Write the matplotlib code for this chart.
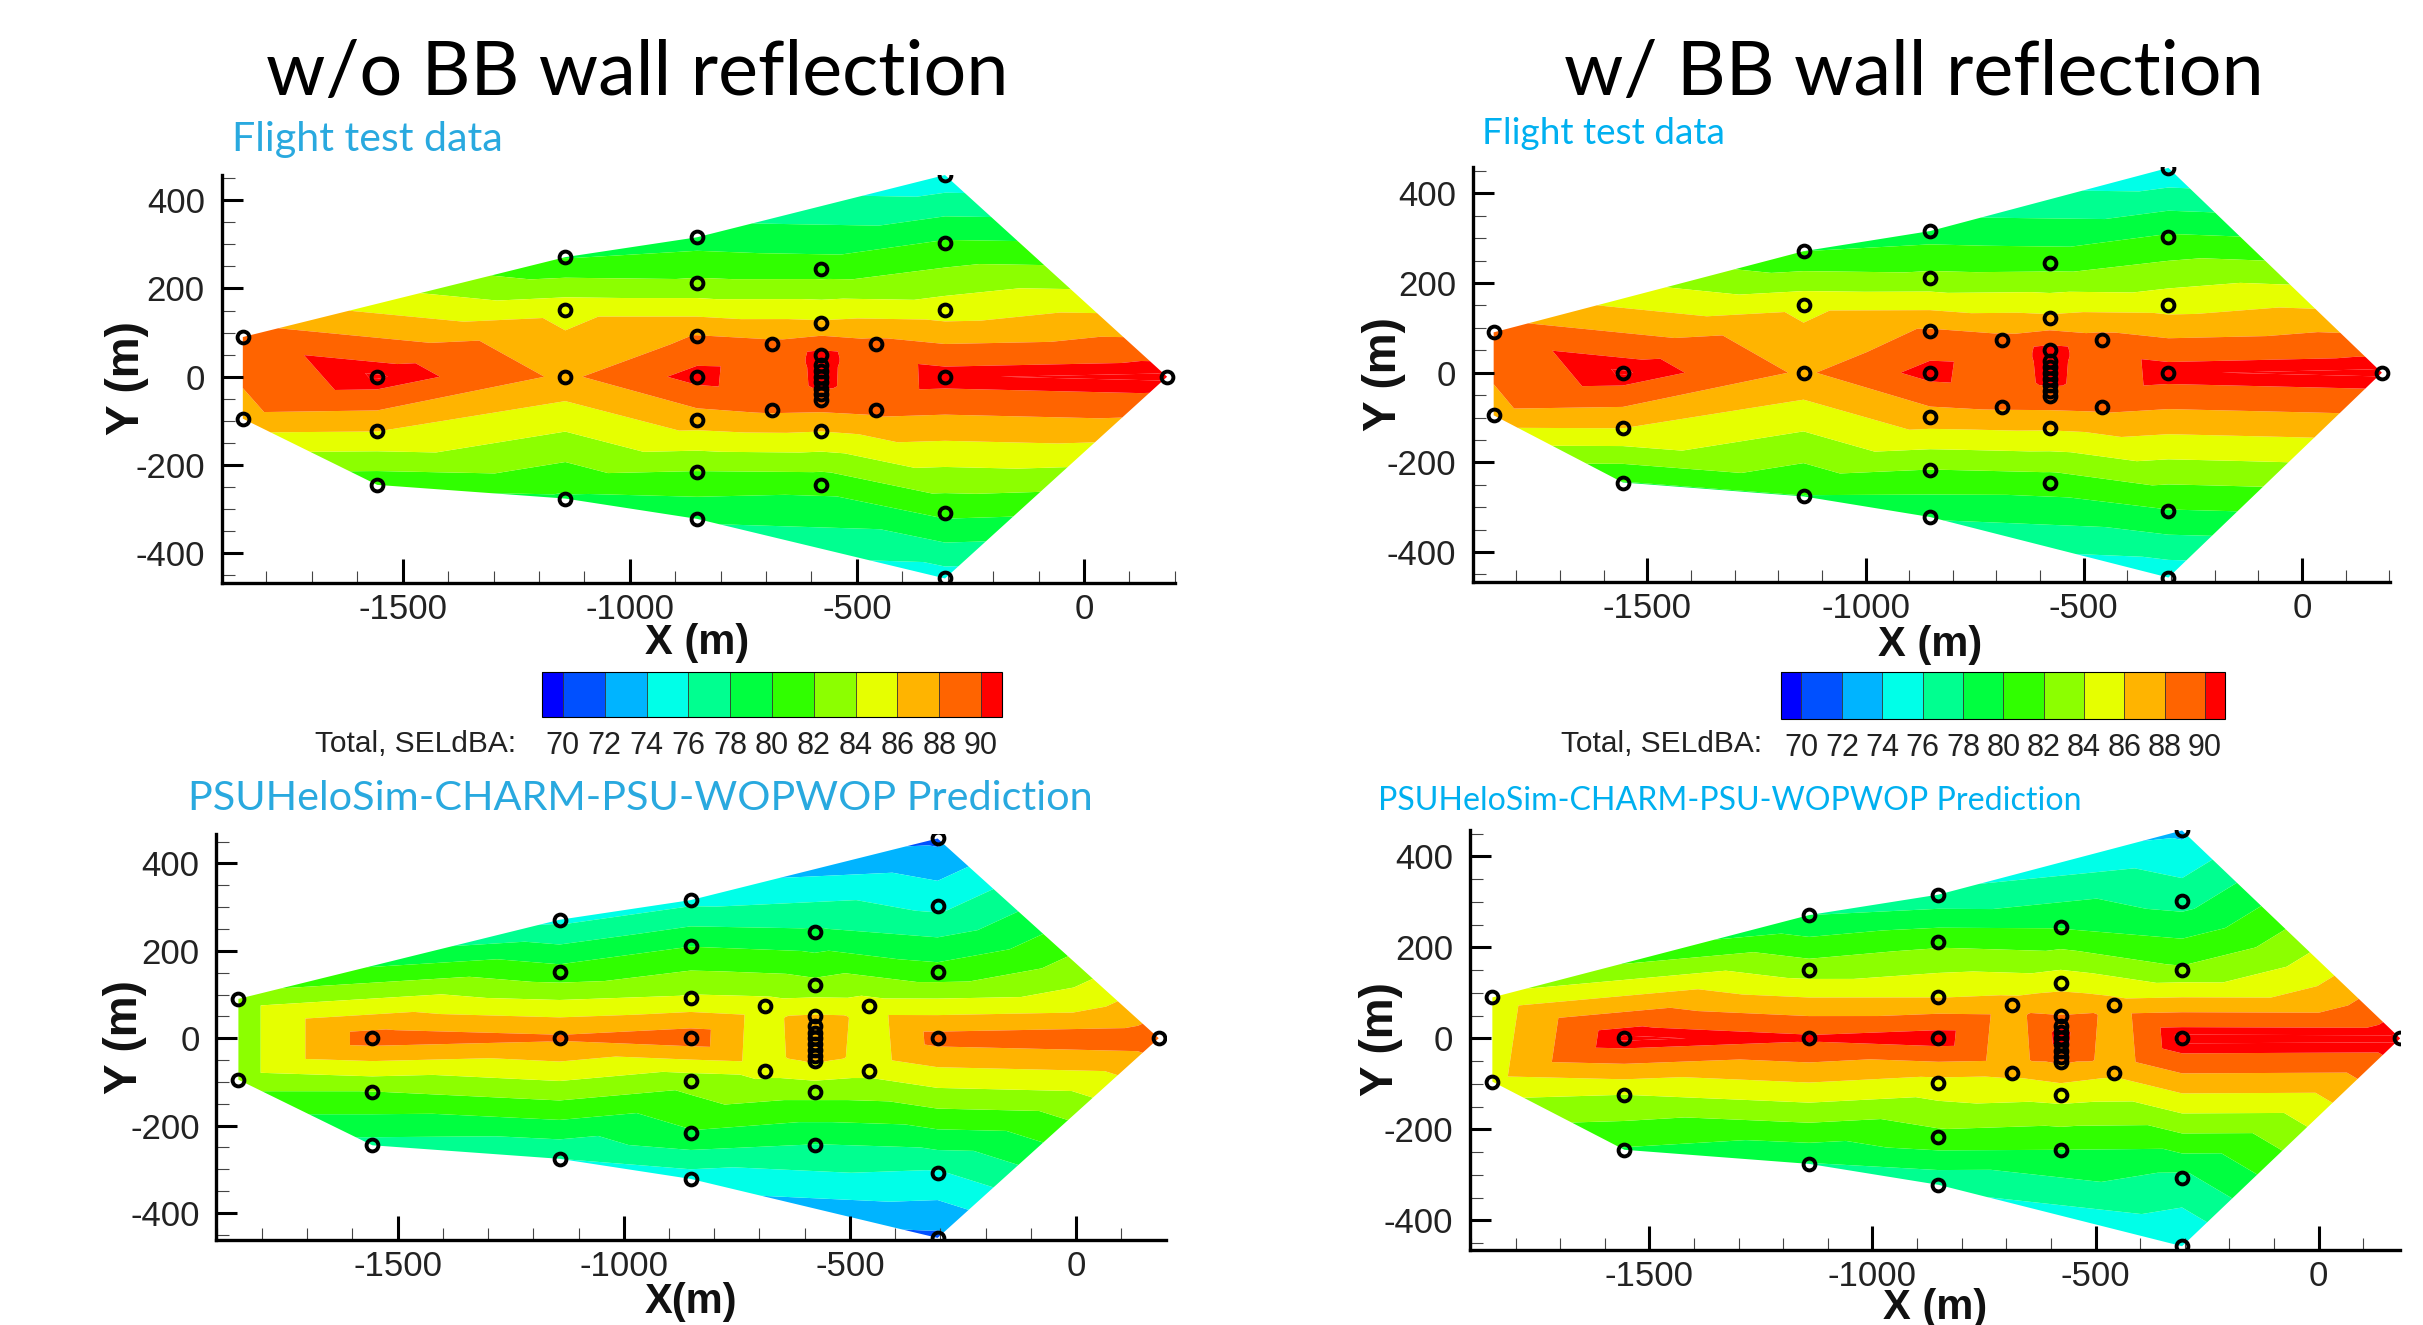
import matplotlib
matplotlib.use("Agg")
import matplotlib.pyplot as plt
import matplotlib.tri as mtri
from matplotlib.colors import ListedColormap, BoundaryNorm
from matplotlib.cm import ScalarMappable
from matplotlib.path import Path
from matplotlib.ticker import MultipleLocator
import numpy as np

W, H = 2423, 1325
plt.rcParams["font.family"] = "Liberation Sans"
plt.rcParams["axes.unicode_minus"] = False

# microphone positions (m)
mic_x = [-1852, -1852, -1556, -1556, -1556, -1142, -1142, -1142, -1142,
         -852, -852, -852, -852, -852, -852, -852, -688, -688,
         -578, -578, -578, -578, -578, -578, -578, -578, -578, -578, -578, -578,
         -458, -458, -306, -306, -306, -306, -306, -306, 183]
mic_y = [90, -95, 0, -124, -245, 271, 151, 0, -276,
         316, 212, 92, 0, -98, -216, -322, 74, -76,
         244, 121, 50, 27, 13, 0, -13, -27, -40, -52, -124, -245,
         74, -76, 457, 302, 151, 0, -308, -457, 0]
# outline of the measured area, as indices into the microphone list
hull_order = [0, 5, 9, 32, 38, 37, 15, 8, 4, 1]

# SEL values at every microphone (dBA)
flight_no_bb = [89.0, 87.4, 91.2, 86.0, 80.6, 79.9, 85.3, 87.6, 79.6,
                79.0, 82.4, 88.1, 90.7, 87.0, 81.9, 78.3, 88.5, 88.3,
                81.0, 86.3, 90.6, 90.7, 90.7, 90.6, 90.4, 90.0, 89.6, 89.3, 86.0, 80.7,
                88.6, 88.5, 74.5, 80.3, 85.0, 90.9, 80.5, 75.0, 91.3]
flight_bb = [89.0, 87.4, 91.2, 86.0, 79.9, 80.0, 85.4, 87.7, 79.9,
             79.0, 82.5, 88.3, 90.7, 87.2, 82.0, 78.2, 88.6, 88.3,
             81.2, 86.4, 90.7, 90.8, 90.8, 90.7, 90.5, 90.1, 89.7, 89.4, 86.2, 81.0,
             88.7, 88.5, 74.3, 80.3, 85.2, 90.9, 79.9, 74.6, 91.3]
pred_no_bb = [83.0, 83.0, 89.0, 81.9, 77.3, 75.5, 80.8, 88.4, 76.0,
              75.4, 79.9, 84.3, 89.2, 82.8, 79.8, 75.0, 84.8, 84.6,
              78.3, 82.6, 86.2, 87.3, 87.7, 87.9, 87.6, 87.1, 86.6, 86.2, 82.7, 77.9,
              84.9, 84.6, 71.5, 75.5, 80.8, 88.8, 75.8, 71.5, 89.3]
pred_bb = [84.7, 85.3, 91.3, 84.0, 79.8, 78.0, 83.0, 90.4, 77.9,
           76.5, 81.5, 85.9, 91.0, 85.3, 81.4, 76.5, 86.8, 86.4,
           79.9, 85.3, 88.1, 89.9, 90.4, 90.7, 90.3, 89.5, 88.7, 88.2, 84.8, 80.0,
           86.8, 86.4, 73.5, 77.2, 82.3, 91.5, 77.5, 74.0, 91.4]

levels = [69, 70, 72, 74, 76, 78, 80, 82, 84, 86, 88, 90, 91]
band_colors = ["#0000ff", "#0050ff", "#00b4ff", "#00ffe8", "#00ff90", "#00ff40",
               "#30ff00", "#8cff00", "#e6ff00", "#ffb400", "#ff6400", "#ff0000"]
cbar_ticks = [70, 72, 74, 76, 78, 80, 82, 84, 86, 88, 90]
x_tick_step, x_minor_step = 500, 100
y_tick_step, y_minor_step = 200, 50

cmap = ListedColormap(band_colors)
cmap.set_over(band_colors[-1])
cmap.set_under(band_colors[0])
norm = BoundaryNorm(levels, cmap.N)
fig = plt.figure(figsize=(W / 100, H / 100), dpi=100, facecolor="white")


def fx(px):
    return px / W


def fy(py):
    return 1 - py / H


def add_px_axes(left, top, right, bottom):
    return fig.add_axes([fx(left), fy(bottom), (right - left) / W, (bottom - top) / H])


def fit_text(px_left, py_center, string, px_width, color, family="Lato"):
    t = fig.text(fx(px_left), fy(py_center), string, color=color, family=family,
                 ha="left", va="center", fontsize=30)
    r = fig.canvas.get_renderer()
    t.set_fontsize(30 * px_width / t.get_window_extent(r).width)
    return t


xv = np.array(mic_x, float)
yv = np.array(mic_y, float)
triang = mtri.Triangulation(xv, yv)
outline = Path(np.column_stack([xv[hull_order], yv[hull_order]]))
centroids = np.column_stack([xv[triang.triangles].mean(axis=1), yv[triang.triangles].mean(axis=1)])
triang.set_mask(~outline.contains_points(centroids))


def panel(values, box, x_cal, y_cal):
    left, top, right, bottom = box
    ax = add_px_axes(left, top, right, bottom)
    xs = (x_cal[1] - x_cal[0]) / 1500
    ys = (y_cal[1] - y_cal[0]) / 800
    ax.set_xlim((left - x_cal[1]) / xs, (right - x_cal[1]) / xs)
    y0 = (y_cal[0] + y_cal[1]) / 2
    ax.set_ylim((y0 - bottom) / ys, (y0 - top) / ys)
    ax.tricontourf(triang, values, levels=levels, cmap=cmap, norm=norm, extend="both",
                   antialiased=True)
    ax.plot(xv, yv, ls="none", marker="o", ms=8.5, mfc="none", mec="black", mew=2.8, zorder=5)
    for s in ("top", "right"):
        ax.spines[s].set_visible(False)
    for s in ("left", "bottom"):
        ax.spines[s].set_linewidth(2.4)
    ax.xaxis.set_major_locator(MultipleLocator(x_tick_step))
    ax.xaxis.set_minor_locator(MultipleLocator(x_minor_step))
    ax.yaxis.set_major_locator(MultipleLocator(y_tick_step))
    ax.yaxis.set_minor_locator(MultipleLocator(y_minor_step))
    ax.tick_params(axis="x", which="major", direction="in", length=17, width=2.2, labelsize=25,
                   pad=7, labelcolor="#222222")
    ax.tick_params(axis="y", which="major", direction="in", length=15, width=2.2, labelsize=25,
                   pad=12, labelcolor="#222222")
    ax.tick_params(which="minor", direction="in", length=9, width=0.8, color="#444444")
    return ax


def colorbar(box, tot_left):
    left, top, right, bottom = box
    cax = add_px_axes(left, top, right, bottom)
    cb = fig.colorbar(ScalarMappable(norm=norm, cmap=cmap), cax=cax, orientation="horizontal",
                      spacing="proportional", ticks=cbar_ticks, drawedges=True, extend="neither")
    cb.outline.set_linewidth(0.8)
    cb.dividers.set_linewidth(0.6)
    cb.dividers.set_color("#333333")
    cb.ax.tick_params(length=0, labelsize=22, pad=10, labelcolor="#222222")
    cb.ax.minorticks_off()
    fig.text(fx(tot_left), fy(744), "Total, SELdBA:", fontsize=21.5, color="#222222",
             ha="left", va="center")


panel(flight_no_bb, (221.5, 175, 1175, 583), (402.7, 1084), (200.2, 553.3))
panel(flight_bb, (1472.6, 166.5, 2389.7, 582.3), (1647.3, 2302), (193.4, 552))
panel(pred_no_bb, (216.4, 834, 1165.5, 1240.4), (397.6, 1076), (863.4, 1213))
panel(pred_bb, (1469.8, 829.5, 2400, 1250.3), (1649.4, 2318.6), (856.4, 1220.3))

colorbar((542, 671.5, 1002, 717), 315)
colorbar((1781.3, 672.4, 2225.3, 718.7), 1561)

fit_text(266, 73, "w/o BB wall reflection", 743, "black")
fit_text(1564, 73, "w/ BB wall reflection", 700, "black")
fit_text(232.5, 140, "Flight test data", 270, "#29a9df")
fit_text(1481.6, 133, "Flight test data", 242, "#00b0f0")
fit_text(187.8, 798, "PSUHeloSim-CHARM-PSU-WOPWOP Prediction", 902, "#29a9df")
fit_text(1378, 801, "PSUHeloSim-CHARM-PSU-WOPWOP Prediction", 701, "#00b0f0")

for px, py, s in [(697.5, 643, "X (m)"), (1930.5, 645, "X (m)"), (691, 1302, "X(m)"), (1935, 1308, "X (m)")]:
    fig.text(fx(px), fy(py), s, fontsize=30, fontweight="bold", ha="center", va="center", color="#111111")
for px, py, s in [(127, 378, "Y (m)"), (1384, 373.6, "Y (m)"), (125, 1037, "Y (m)"), (1381, 1039, "Y (m)")]:
    fig.text(fx(px), fy(py), s, fontsize=33, fontweight="bold", rotation=90, ha="center", va="center",
             color="#111111")

fig.savefig("out.png", dpi=100)
